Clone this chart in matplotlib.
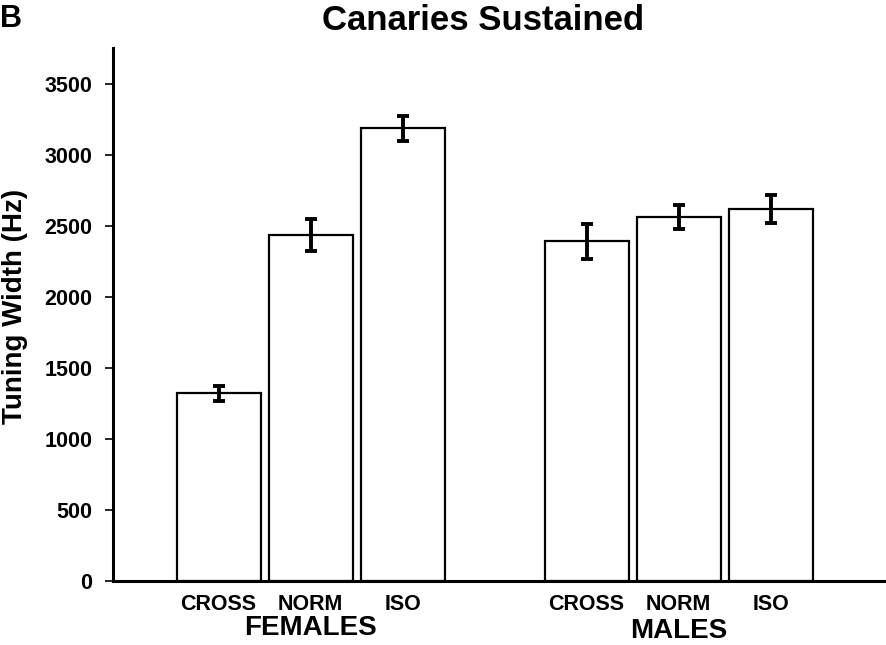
import matplotlib
matplotlib.use("Agg")
import matplotlib.pyplot as plt

categories = ["CROSS", "NORM", "ISO", "CROSS", "NORM", "ISO"]
groups = ["FEMALES", "MALES"]
values = [1320, 2433, 3186, 2389, 2560, 2618]
errors = [55, 113, 88, 122, 84, 100]
positions = [0, 1, 2, 4, 5, 6]
group_centers = [1, 5]
yticks = [0, 500, 1000, 1500, 2000, 2500, 3000, 3500]

plt.rcParams['font.family'] = ['Liberation Sans', 'DejaVu Sans']
plt.rcParams['font.weight'] = 'bold'

fig = plt.figure(figsize=(8.86, 6.45), dpi=100)
ax = fig.add_axes([113/886, 64/645, 773/886, 533/645])

ax.bar(positions, values, width=0.913, color='white', edgecolor='black', linewidth=1.6, zorder=2)
ax.errorbar(positions, values, yerr=errors, fmt='none', ecolor='black', elinewidth=2.8,
            capsize=4, capthick=2.8, zorder=3)

ax.set_xlim(-1.147, 7.255)
ax.set_ylim(0, 3750)
ax.set_yticks(yticks)
ax.set_yticklabels([str(t) for t in yticks], fontsize=15.5, fontweight='bold')
ax.tick_params(axis='y', direction='out', length=6, width=1.2, pad=9)
ax.tick_params(axis='x', length=0)
ax.set_xticks(positions)
ax.set_xticklabels(categories, fontsize=15.5, fontweight='bold')
ax.tick_params(axis='x', pad=9)

for s in ['top', 'right']:
    ax.spines[s].set_visible(False)
for s in ['left', 'bottom']:
    ax.spines[s].set_linewidth(2.2)

ax.set_ylabel("Tuning Width (Hz)", fontsize=20, fontweight='bold')
ax.yaxis.set_label_coords(-(113 - 28)/773, (581 - 306)/533)

# group labels
ax.text(group_centers[0], -0.088, groups[0], transform=ax.get_xaxis_transform(), ha='center', va='center',
        fontsize=20, fontweight='bold')
ax.text(group_centers[1], -0.093, groups[1], transform=ax.get_xaxis_transform(), ha='center', va='center',
        fontsize=20, fontweight='bold')

fig.text(483/886, 1 - 20/645, "Canaries Sustained", ha='center', va='center', fontsize=25, fontweight='bold')
fig.text(0.5/886, 1 - 19/645, "B", ha='left', va='center', fontsize=22, fontweight='bold')

fig.savefig("out.png", dpi=100)
